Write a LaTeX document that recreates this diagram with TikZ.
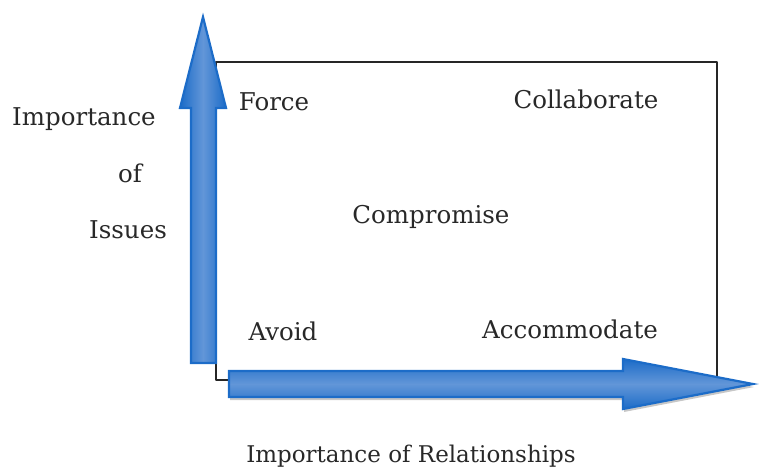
\documentclass[tikz,border=0pt]{standalone}
\usepackage{fontspec}
\setmainfont{DejaVu Serif}
\definecolor{arrowblue}{RGB}{28,108,200}
\definecolor{arrowlight}{RGB}{98,150,216}
\definecolor{textgray}{RGB}{40,40,40}
\begin{document}
\begin{tikzpicture}[x=1pt, y=-1pt, line join=round, font=\fontsize{24.5}{29}\selectfont]
	\tikzset{label text/.style={text=textgray, inner sep=0pt, anchor=base},
		axis arrow/.style={draw=arrowblue, line width=2.2pt, line join=miter},
		arrow shadow/.style={fill=black!22}}
	\useasboundingbox (0,0) rectangle (759,469);
	% frame of the grid
	\draw[line width=2pt, black!85] (216,62) rectangle (717,380);
	% shadow under the horizontal arrow
	\fill[arrow shadow] (230,374) -- (624,374) -- (624,362) -- (754,387) -- (624,412) -- (624,400) -- (230,400) -- cycle;
	% vertical axis
	\shadedraw[axis arrow, left color=arrowblue, right color=arrowblue, middle color=arrowlight]
		(191,363) -- (191,108) -- (180,108) -- (203,17) -- (226,108) -- (216,108) -- (216,363) -- cycle;
	% horizontal axis
	\shadedraw[axis arrow, top color=arrowblue, bottom color=arrowblue, middle color=arrowlight]
		(229,371) -- (623,371) -- (623,359) -- (753,384) -- (623,409) -- (623,397) -- (229,397) -- cycle;
	\node[label text] (force) at (274,110) {Force};
	\node[label text] (collab) at (586,108) {Collaborate};
	\node[label text] (compro) at (431,223) {Compromise};
	\node[label text] (avoid) at (283,340) {Avoid};
	\node[label text] (accom) at (570,338) {Accommodate};
	\node[label text] (impo) at (84,125) {Importance};
	\node[label text] (of) at (130,182) {of};
	\node[label text] (issues) at (128,238) {Issues};
	\node[label text, font=\fontsize{23}{27}\selectfont] (rel) at (411,462) {Importance of Relationships};
\end{tikzpicture}
\end{document}
